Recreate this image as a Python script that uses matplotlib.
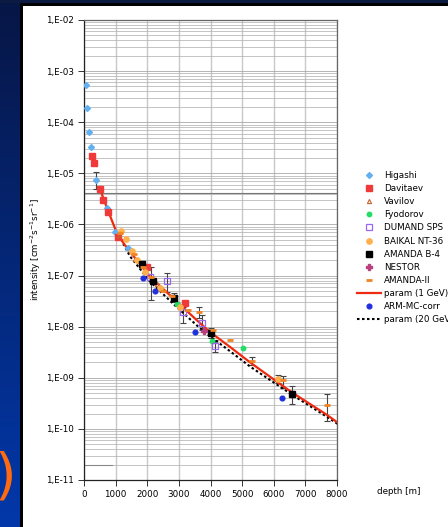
import numpy as np
import matplotlib
matplotlib.use("Agg")
import matplotlib.pyplot as plt
from matplotlib.patches import Rectangle
from matplotlib.ticker import LogLocator, NullFormatter

W_PX, H_PX, DPI = 448, 527, 100
FS = 6.3

# depth [m] / vertical muon intensity [cm^-2 s^-1 sr^-1]
higashi_d = [63, 105, 158, 232, 390, 717, 970, 1380]
higashi_i = [5.4e-4, 1.93e-4, 6.5e-5, 3.3e-5, 7.3e-6, 2.1e-6, 7.0e-7, 3.4e-7]
higashi_lo = [np.nan, np.nan, np.nan, np.nan, 4.9e-6, np.nan, np.nan, np.nan]
higashi_hi = [np.nan, np.nan, np.nan, np.nan, 1.05e-5, np.nan, np.nan, np.nan]

davitaev_d = [264, 316, 506, 611, 759, 1086, 1982, 3194]
davitaev_i = [2.2e-5, 1.58e-5, 4.9e-6, 3.0e-6, 1.78e-6, 5.6e-7, 1.5e-7, 2.9e-8]

vavilov_d = [1100, 1620, 2300]
vavilov_i = [6.3e-7, 2.1e-7, 6.8e-8]

fyodorov_d = [2932, 4037, 5018]
fyodorov_i = [2.8e-8, 5.3e-9, 3.8e-9]

dumand_d = [2089, 2624, 3141, 3722, 4143]
dumand_i = [9.5e-8, 7.8e-8, 1.9e-8, 1.2e-8, 4.2e-9]
dumand_lo = [np.nan, 4.8e-8, 1.2e-8, 8.7e-9, 3.2e-9]
dumand_hi = [np.nan, 1.12e-7, 2.45e-8, 1.7e-8, 5.5e-9]

baikal_d = [1159, 1318, 1507, 1666, 1929, 2403, 3036, 6145]
baikal_i = [7.6e-7, 5.2e-7, 3.0e-7, 2.0e-7, 1.2e-7, 5.6e-8, 2.4e-8, 9.5e-10]
baikal_lo = [np.nan] * 7 + [7.8e-10]
baikal_hi = [np.nan] * 7 + [1.15e-9]

amandab4_d = [1824, 2171, 2856, 4006, 6567]
amandab4_i = [1.65e-7, 8.0e-8, 3.7e-8, 7.5e-9, 4.8e-10]
amandab4_lo = [1.4e-7, np.nan, 3.0e-8, 6.0e-9, 3.1e-10]
amandab4_hi = [1.95e-7, np.nan, 4.5e-8, 9.5e-9, 7.0e-10]

nestor_d = [3795]
nestor_i = [8.3e-9]

amanda2_d = [1140, 1580, 1878, 2110, 2500, 2775, 3299, 3646, 4089, 4617, 5312, 6282, 7674]
amanda2_i = [6.7e-7, 2.6e-7, 1.5e-7, 9.5e-8, 5.0e-8, 4.0e-8, 2.1e-8, 1.9e-8,
             8.5e-9, 5.5e-9, 2.1e-9, 9.0e-10, 2.9e-10]
amanda2_lo = [np.nan, np.nan, np.nan, 3.3e-8, np.nan, np.nan, np.nan, 1.5e-8,
              np.nan, np.nan, 1.8e-9, 6.3e-10, 1.45e-10]
amanda2_hi = [np.nan, np.nan, np.nan, 1.5e-7, np.nan, np.nan, np.nan, 2.4e-8,
              np.nan, np.nan, 2.5e-9, 1.1e-9, 4.8e-10]

arm_d = [1876, 2245, 3510, 6251]
arm_i = [9.0e-8, 4.9e-8, 7.8e-9, 4.0e-10]

param1_d = [500, 740, 1000, 1260, 1450, 2090, 2820, 3560, 3980, 4620, 5250,
            6000, 6570, 7670, 8040]
param1_i = [5.0e-6, 2.0e-6, 7.8e-7, 4.2e-7, 2.95e-7, 9.5e-8, 3.6e-8, 1.35e-8,
            7.9e-9, 4.0e-9, 2.0e-9, 9.3e-10, 5.2e-10, 1.9e-10, 1.3e-10]

param20_d = [1100, 1450, 2090, 2820, 3560, 3980, 4620, 5250, 6000, 6570, 7670, 8040]
param20_i = [6.3e-7, 2.4e-7, 7.6e-8, 2.8e-8, 1.07e-8, 6.5e-9, 3.3e-9, 1.66e-9,
             8.1e-10, 4.7e-10, 1.74e-10, 1.23e-10]

y_ticks = [1e-11, 1e-10, 1e-9, 1e-8, 1e-7, 1e-6, 1e-5, 1e-4, 1e-3, 1e-2]
y_ticklabels = ["1,E-11", "1,E-10", "1,E-09", "1,E-08", "1,E-07",
                "1,E-06", "1,E-05", "1,E-04", "1,E-03", "1,E-02"]
x_ticks = [0, 1000, 2000, 3000, 4000, 5000, 6000, 7000, 8000]

fig = plt.figure(figsize=(W_PX / DPI, H_PX / DPI), dpi=DPI, facecolor="white")

# slide background: blue gradient strip on the left, navy strip on top, black frame
bg = fig.add_axes([0, 0, 20 / W_PX, 1])
grad = np.linspace(0, 1, 256).reshape(-1, 1)
top_c = np.array([0x07, 0x16, 0x45]) / 255
bot_c = np.array([0x02, 0x38, 0xaa]) / 255
img = top_c + (bot_c - top_c) * grad[:, :, None]
bg.imshow(img, aspect="auto", extent=[0, 1, 0, 1], origin="upper")
bg.set_axis_off()
bg.text(0.82, 1 - 478 / H_PX, ")", transform=bg.transAxes, ha="right", va="center",
        fontsize=40, color="#ff6a10", clip_on=True)
fig.add_artist(Rectangle((0, 1 - 3 / H_PX), 1, 3 / H_PX, transform=fig.transFigure,
                         color="#0a1a40", lw=0))
fig.add_artist(Rectangle((20 / W_PX, 1 - 6 / H_PX), 1, 3 / H_PX, transform=fig.transFigure,
                         color="black", lw=0))
fig.add_artist(Rectangle((20 / W_PX, 0), 3 / W_PX, 1 - 3 / H_PX, transform=fig.transFigure,
                         color="black", lw=0))

ax = fig.add_axes([84 / W_PX, 1 - 480 / H_PX, 253 / W_PX, 460 / H_PX])
ax.set_yscale("log")
ax.set_xlim(0, 8000)
ax.set_ylim(1e-11, 1e-2)
ax.yaxis.set_minor_locator(LogLocator(base=10, subs=np.arange(2, 10), numticks=200))
ax.yaxis.set_minor_formatter(NullFormatter())

ax.grid(True, which="major", axis="x", color="#c8c8c8", lw=1.0)
ax.grid(True, which="major", axis="y", color="#a8a8a8", lw=0.6)
ax.grid(True, which="minor", axis="y", color="#b4b4b4", lw=0.55)
ax.axhline(4.2e-6, color="#777777", lw=0.8)
ax.plot([0, 900], [2.0e-11, 2.0e-11], color="#888888", lw=0.8)
ax.set_axisbelow(True)


def errbars(d, i, lo, hi):
    d, i, lo, hi = map(np.asarray, (d, i, lo, hi))
    m = ~np.isnan(lo)
    ax.errorbar(d[m], i[m], yerr=[i[m] - lo[m], hi[m] - i[m]], fmt="none",
                ecolor="#444444", elinewidth=0.8, capsize=2.2, capthick=0.8, zorder=2)


errbars(higashi_d, higashi_i, higashi_lo, higashi_hi)
errbars(dumand_d, dumand_i, dumand_lo, dumand_hi)
errbars(baikal_d, baikal_i, baikal_lo, baikal_hi)
errbars(amandab4_d, amandab4_i, amandab4_lo, amandab4_hi)
errbars(amanda2_d, amanda2_i, amanda2_lo, amanda2_hi)

l_p1, = ax.plot(param1_d, param1_i, color="#ee2a10", lw=1.6, zorder=4)
l_p20, = ax.plot(param20_d, param20_i, color="black", lw=1.5,
                 linestyle=(0, (1.2, 1.2)), zorder=3)

h_hig, = ax.plot(higashi_d, higashi_i, "D", ms=3.0, color="#62b0f0", mec="#62b0f0", ls="none", zorder=5)
h_dav, = ax.plot(davitaev_d, davitaev_i, "s", ms=3.8, color="#f03a3a", ls="none", zorder=5)
h_vav, = ax.plot(vavilov_d, vavilov_i, "^", ms=3.0, mfc="none", mec="#c8602a", mew=0.8, ls="none", zorder=5)
h_fyo, = ax.plot(fyodorov_d, fyodorov_i, "o", ms=3.2, color="#22dd66", ls="none", zorder=5)
h_dum, = ax.plot(dumand_d, dumand_i, "s", ms=4.2, mfc="none", mec="#9a66ee", mew=0.9, ls="none", zorder=5)
h_bai, = ax.plot(baikal_d, baikal_i, "o", ms=3.8, color="#ffb04c", ls="none", zorder=5)
h_amb, = ax.plot(amandab4_d, amandab4_i, "s", ms=3.8, color="black", ls="none", zorder=6)
h_nes, = ax.plot(nestor_d, nestor_i, "P", ms=4.5, color="#b8407e", ls="none", zorder=6)
h_am2, = ax.plot(amanda2_d, amanda2_i, "_", ms=5.0, mew=2.0, color="#f08424", ls="none", zorder=6)
h_arm, = ax.plot(arm_d, arm_i, "o", ms=3.4, color="#2030dd", ls="none", zorder=5)

ax.set_yticks(y_ticks)
ax.set_yticklabels(y_ticklabels)
ax.set_xticks(x_ticks)
ax.tick_params(axis="both", which="major", labelsize=FS, length=4, width=0.7,
               color="#333333", pad=3)
ax.tick_params(axis="y", which="minor", left=False)
for s in ("left", "bottom"):
    ax.spines[s].set_color("#222222")
    ax.spines[s].set_linewidth(0.9)
for s in ("top", "right"):
    ax.spines[s].set_color("#666666")
    ax.spines[s].set_linewidth(0.9)

ax.set_ylabel("intensity [cm$^{-2}$s$^{-1}$sr$^{-1}$]", fontsize=FS)
ax.yaxis.set_label_coords(-0.162, 0.5)
fig.text(377 / W_PX, 1 - 491 / H_PX, "depth [m]", fontsize=FS, ha="left", va="center")

handles = [h_hig, h_dav, h_vav, h_fyo, h_dum, h_bai, h_amb, h_nes, h_am2, l_p1, h_arm, l_p20]
labels = ["Higashi", "Davitaev", "Vavilov", "Fyodorov", "DUMAND SPS", "BAIKAL NT-36",
          "AMANDA B-4", "NESTOR", "AMANDA-II", "param (1 GeV)", "ARM-MC-corr",
          "param (20 GeV)"]
fig.legend(handles, labels, loc="upper left", bbox_to_anchor=(357 / W_PX, 1 - 171 / H_PX),
           frameon=False, fontsize=FS, borderpad=0, borderaxespad=0,
           handlelength=2.75, handletextpad=0.35, labelspacing=0.47)

fig.savefig("out.png", dpi=DPI)
